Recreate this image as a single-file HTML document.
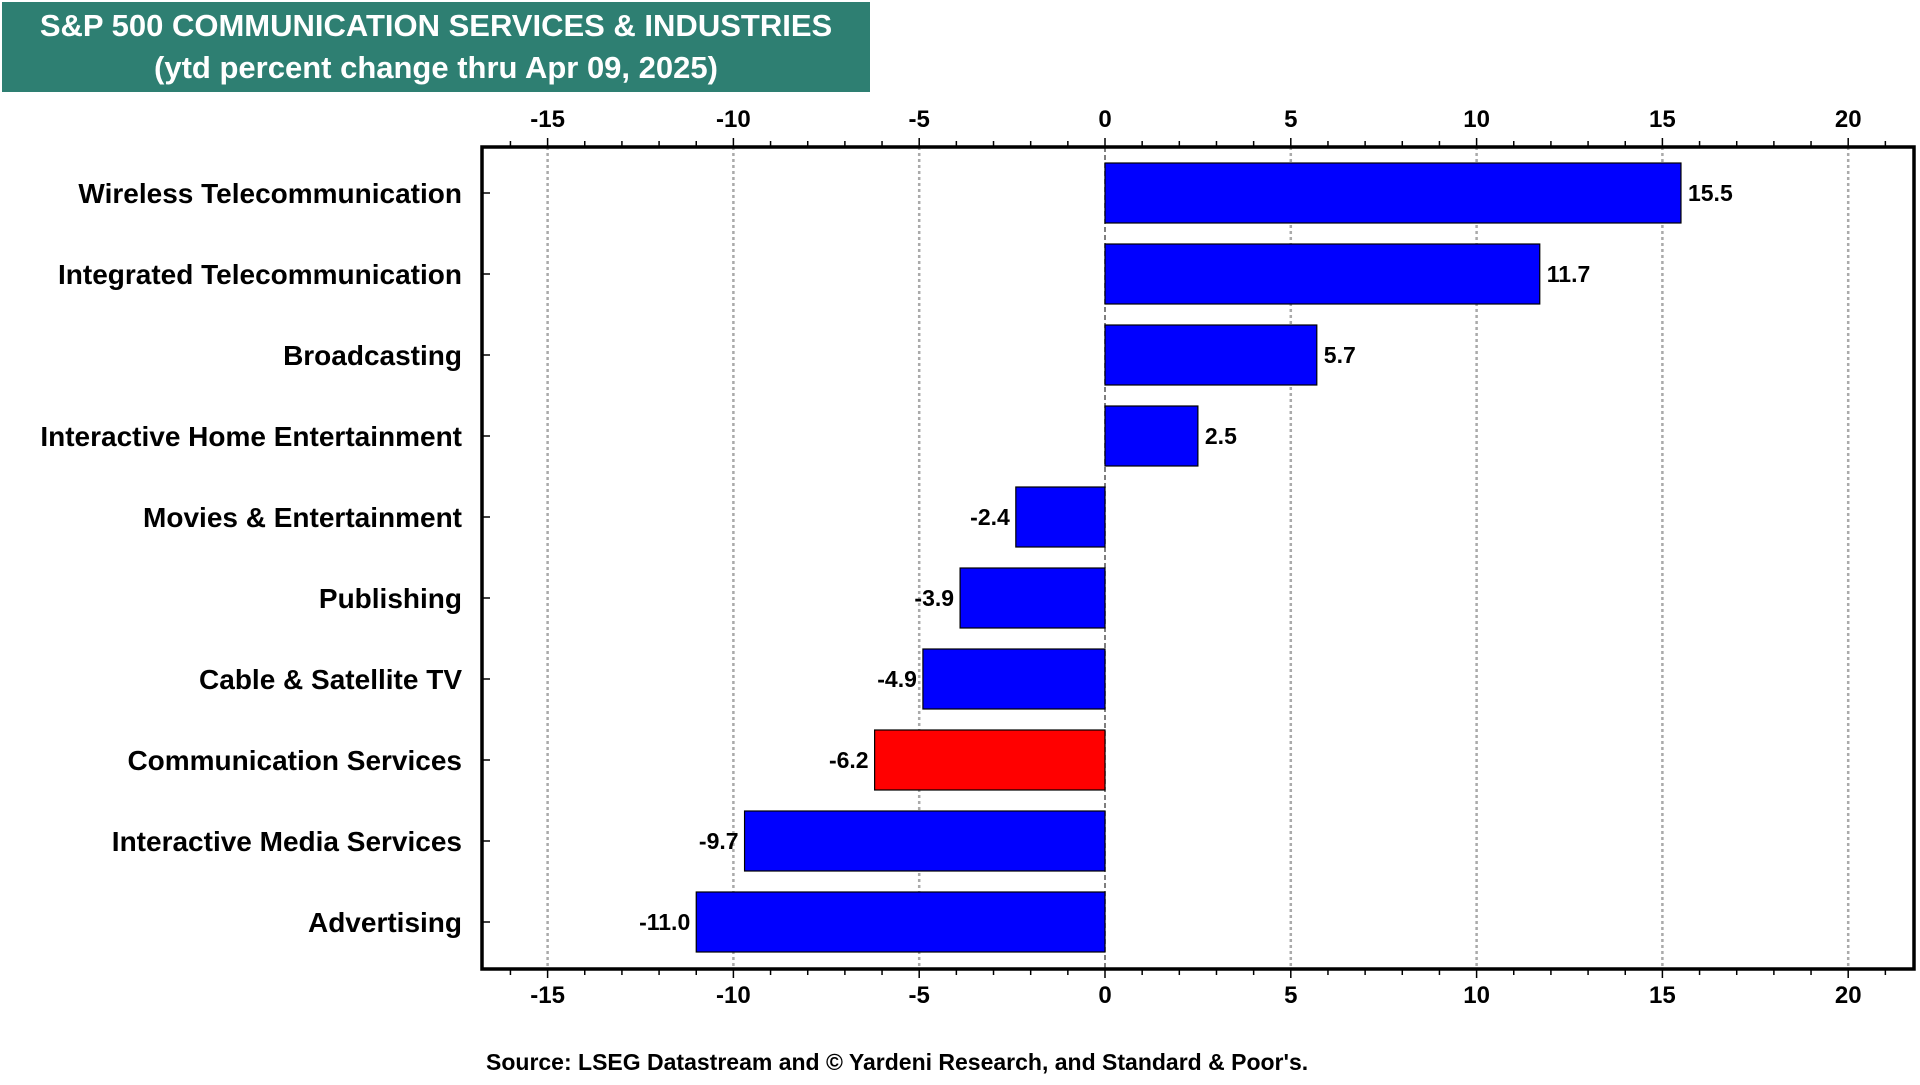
<!DOCTYPE html>
<html><head><meta charset="utf-8"><style>
body{margin:0;width:1920px;height:1080px;background:#fff;overflow:hidden;font-family:"Liberation Sans",Arial,sans-serif}
svg text{font-family:"Liberation Sans",Arial,sans-serif;font-weight:bold}
</style></head><body>
<svg id="chart" width="1920" height="1080" xmlns="http://www.w3.org/2000/svg">
<rect x="2" y="2" width="868" height="90" fill="#2E7F72"/>
<text x="436" y="36" fill="#fff" font-size="31" text-anchor="middle">S&amp;P 500 COMMUNICATION SERVICES &amp; INDUSTRIES</text>
<text x="436" y="78" fill="#fff" font-size="31" text-anchor="middle">(ytd percent change thru Apr 09, 2025)</text>
<g id="grid"></g><g id="bars"></g><g id="axes"></g>
<text x="486" y="1070" font-size="23" fill="#000">Source: LSEG Datastream and © Yardeni Research, and Standard &amp; Poor's.</text>
</svg>
<script>
const categories=["Wireless Telecommunication","Integrated Telecommunication","Broadcasting","Interactive Home Entertainment","Movies & Entertainment","Publishing","Cable & Satellite TV","Communication Services","Interactive Media Services","Advertising"];
const values=[15.5,11.7,5.7,2.5,-2.4,-3.9,-4.9,-6.2,-9.7,-11.0];
const highlight=["Communication Services"];
const ticks=[-15,-10,-5,0,5,10,15,20];
const L=482,R=1914,T=147,B=969;
const NS="http://www.w3.org/2000/svg";
const x=v=>1105+(v)*37.16;
const y=i=>193+i*81.0;
function mk(t,a,p){const e=document.createElementNS(NS,t);for(const k in a)e.setAttribute(k,a[k]);p.appendChild(e);return e;}
const grid=document.getElementById('grid'),bars=document.getElementById('bars'),axes=document.getElementById('axes');
ticks.forEach(t=>{
  const gl=mk('line',{x1:x(t),x2:x(t),y1:T,y2:B,stroke:t===0?'#555':'#aaa','stroke-width':t===0?1.5:2.5,'stroke-dasharray':t===0?'5,3':'3,3'},grid);
  
  
  [[119],[995]].forEach(([yy],k)=>{
    const tx=mk('text',{x:x(t),y:yy+8,'font-size':24,'text-anchor':'middle'},axes);
    tx.textContent=String(t);
    
    
  });
});
for(let v=-16;v<=21;v++){
  const big=v%5===0;
  const a=mk('line',{x1:x(v),x2:x(v),y1:T-(big?9:6),y2:T,stroke:'#000','stroke-width':1.5},axes);
  
  
  const b=mk('line',{x1:x(v),x2:x(v),y1:B,y2:B+(big?9:6),stroke:'#000','stroke-width':1.5},axes);
  
  
}
categories.forEach((c,i)=>{
  const v=values[i];const cy=y(i);
  const r=mk('rect',{x:Math.min(x(0),x(v)),y:cy-30,width:Math.abs(x(v)-x(0)),height:60,fill:highlight.includes(c)?'#ff0000':'#0000ff',stroke:'#000','stroke-width':1.2},bars);
  
  
  const vl=mk('text',{x:v>=0?x(v)+7:x(v)-6,y:cy+8,'font-size':23,'text-anchor':v>=0?'start':'end'},bars);
  vl.textContent=v.toFixed(1);
  
  
  const cl=mk('text',{x:462,y:cy+10,'font-size':28,'text-anchor':'end'},axes);
  cl.textContent=c;
  
  
  const tk=mk('line',{x1:L,x2:L+8,y1:cy,y2:cy,stroke:'#000','stroke-width':1.5},axes);
  
  
});
const fr=mk('rect',{x:L,y:T,width:R-L,height:B-T,fill:'none',stroke:'#000','stroke-width':3.5},axes);


</script>
</body></html>
